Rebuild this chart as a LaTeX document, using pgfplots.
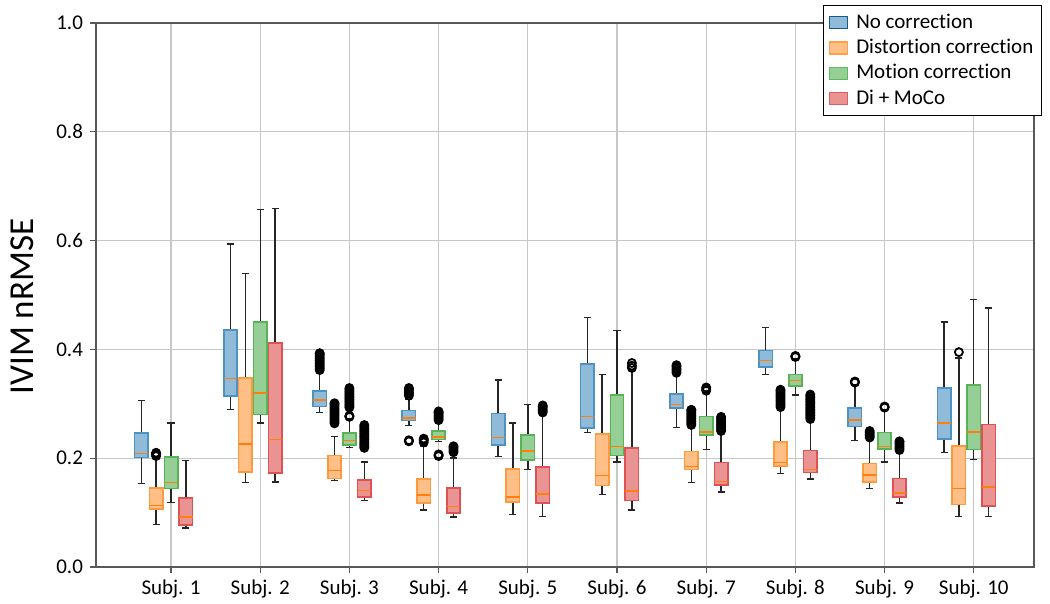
\documentclass[border=0pt]{standalone}
\usepackage{fontspec}
\setmainfont{Carlito}[Ligatures=NoCommon]
\usepackage{pgfplots}
\pgfplotsset{compat=1.18}
\usepgfplotslibrary{statistics}
\definecolor{tabblue}{RGB}{31,119,180}
\definecolor{tabor}{RGB}{255,127,14}
\definecolor{tabgr}{RGB}{44,160,44}
\definecolor{tabred}{RGB}{214,39,40}
\pgfplotsset{
  bxbase/.style={forget plot,
    boxplot/draw direction=y,
    boxplot/box extend=0.15, boxplot/whisker extend=0.08,
    boxplot/every whisker/.style={draw=black!85, line width=0.7pt},
    boxplot/every median/.style={draw=tabor, line width=0.7pt},
    mark=o, mark size=2pt, mark options={draw=black, line width=0.9pt}},
  CB/.style={bxbase, boxplot/every box/.style={draw=tabblue!80!white, fill=tabblue!50!white, line width=0.8pt}},
  CO/.style={bxbase, boxplot/every box/.style={draw=tabor!80!white, fill=tabor!50!white, line width=0.8pt}},
  CG/.style={bxbase, boxplot/every box/.style={draw=tabgr!80!white, fill=tabgr!50!white, line width=0.8pt}},
  CR/.style={bxbase, boxplot/every box/.style={draw=tabred!80!white, fill=tabred!50!white, line width=0.8pt}},
}
\begin{document}
\begin{tikzpicture}
\begin{axis}[
  scale only axis, width=469pt, height=272pt,
  xmin=0.159, xmax=10.675, ymin=0, ymax=1,
  xtick={1,2,3,4,5,6,7,8,9,10},
  xticklabels={Subj. 1,Subj. 2,Subj. 3,Subj. 4,Subj. 5,Subj. 6,Subj. 7,Subj. 8,Subj. 9,Subj. 10},
  ytick={0,0.2,0.4,0.6,0.8,1.0},
  yticklabel={\pgfmathprintnumber[fixed,fixed zerofill,precision=1,assume math mode=true]{\tick}},
  grid=major, major grid style={draw=black!22, line width=0.6pt},
  axis line style={draw=black!65, line width=0.7pt},
  tick style={draw=black!65, line width=0.6pt},
  tick align=outside, major tick length=3pt,
  xtick pos=bottom, ytick pos=left,
  ticklabel style={font=\fontsize{10.5}{12}\selectfont},
  ylabel={IVIM nRMSE},
  ylabel style={font=\fontsize{17.5}{20}\selectfont, at={(axis description cs:-0.079,0.479)}, anchor=center},
  legend style={at={(axis description cs:1.0085,1.033)}, anchor=north east, draw=black, line width=0.6pt,
    font=\fontsize{10.5}{12}\selectfont, inner sep=2.5pt, row sep=1pt, nodes={inner sep=1.5pt}},
  legend cell align=left,
]
\addlegendimage{legend image code/.code={\draw[draw=tabblue!75!black, fill=tabblue!50!white, line width=0.7pt] (0pt,-3pt) rectangle (9pt,3pt);}}
\addlegendentry{\hspace{2.5pt}No correction}
\addlegendimage{legend image code/.code={\draw[draw=tabor!75!white, fill=tabor!50!white, line width=0.7pt] (0pt,-3pt) rectangle (9pt,3pt);}}
\addlegendentry{\hspace{2.5pt}Distortion correction}
\addlegendimage{legend image code/.code={\draw[draw=tabgr!75!white, fill=tabgr!50!white, line width=0.7pt] (0pt,-3pt) rectangle (9pt,3pt);}}
\addlegendentry{\hspace{2.5pt}Motion correction}
\addlegendimage{legend image code/.code={\draw[draw=tabred!75!white, fill=tabred!50!white, line width=0.7pt] (0pt,-3pt) rectangle (9pt,3pt);}}
\addlegendentry{\hspace{2.5pt}Di + MoCo}

% ---------- Subj. 1
\addplot[CB, boxplot prepared={draw position=0.667, lower whisker=0.153, lower quartile=0.201, median=0.209, upper quartile=0.246, upper whisker=0.306}] coordinates {};
\addplot[CO, boxplot prepared={draw position=0.833, lower whisker=0.078, lower quartile=0.107, median=0.113, upper quartile=0.145, upper whisker=0.200}] table[row sep=\\, y index=0] {data\\0.204\\0.206\\0.207\\0.208\\0.210\\};
\addplot[CG, boxplot prepared={draw position=1.000, lower whisker=0.119, lower quartile=0.144, median=0.155, upper quartile=0.202, upper whisker=0.265}] coordinates {};
\addplot[CR, boxplot prepared={draw position=1.167, lower whisker=0.072, lower quartile=0.077, median=0.092, upper quartile=0.127, upper whisker=0.196}] coordinates {};
% ---------- Subj. 2
\addplot[CB, boxplot prepared={draw position=1.667, lower whisker=0.289, lower quartile=0.314, median=0.347, upper quartile=0.436, upper whisker=0.594}] coordinates {};
\addplot[CO, boxplot prepared={draw position=1.833, lower whisker=0.155, lower quartile=0.175, median=0.226, upper quartile=0.347, upper whisker=0.540}] coordinates {};
\addplot[CG, boxplot prepared={draw position=2.000, lower whisker=0.265, lower quartile=0.280, median=0.320, upper quartile=0.450, upper whisker=0.657}] coordinates {};
\addplot[CR, boxplot prepared={draw position=2.167, lower whisker=0.156, lower quartile=0.173, median=0.234, upper quartile=0.412, upper whisker=0.659}] coordinates {};
% ---------- Subj. 3
\addplot[CB, boxplot prepared={draw position=2.667, lower whisker=0.284, lower quartile=0.295, median=0.307, upper quartile=0.324, upper whisker=0.358}] table[row sep=\\, y index=0] {data\\0.362\\0.365\\0.368\\0.371\\0.374\\0.377\\0.380\\0.383\\0.386\\0.389\\0.392\\0.393\\};
\addplot[CO, boxplot prepared={draw position=2.833, lower whisker=0.159, lower quartile=0.163, median=0.177, upper quartile=0.205, upper whisker=0.240}] table[row sep=\\, y index=0] {data\\0.264\\0.267\\0.270\\0.273\\0.276\\0.279\\0.282\\0.285\\0.288\\0.291\\0.294\\0.297\\0.300\\0.301\\};
\addplot[CG, boxplot prepared={draw position=3.000, lower whisker=0.220, lower quartile=0.224, median=0.233, upper quartile=0.246, upper whisker=0.272}] table[row sep=\\, y index=0] {data\\0.276\\0.277\\0.278\\0.293\\0.296\\0.299\\0.302\\0.305\\0.308\\0.311\\0.314\\0.317\\0.320\\0.323\\0.326\\0.329\\};
\addplot[CR, boxplot prepared={draw position=3.167, lower whisker=0.122, lower quartile=0.129, median=0.141, upper quartile=0.160, upper whisker=0.193}] table[row sep=\\, y index=0] {data\\0.219\\0.222\\0.225\\0.228\\0.231\\0.234\\0.237\\0.240\\0.243\\0.246\\0.249\\0.252\\0.255\\0.258\\0.261\\};
% ---------- Subj. 4
\addplot[CB, boxplot prepared={draw position=3.667, lower whisker=0.260, lower quartile=0.269, median=0.274, upper quartile=0.288, upper whisker=0.308}] table[row sep=\\, y index=0] {data\\0.231\\0.232\\0.233\\0.315\\0.318\\0.321\\0.324\\0.327\\0.329\\};
\addplot[CO, boxplot prepared={draw position=3.833, lower whisker=0.105, lower quartile=0.118, median=0.132, upper quartile=0.162, upper whisker=0.222}] table[row sep=\\, y index=0] {data\\0.229\\0.232\\0.234\\0.236\\};
\addplot[CG, boxplot prepared={draw position=4.000, lower whisker=0.231, lower quartile=0.234, median=0.239, upper quartile=0.250, upper whisker=0.265}] table[row sep=\\, y index=0] {data\\0.204\\0.205\\0.207\\0.270\\0.273\\0.276\\0.279\\0.282\\0.284\\0.286\\};
\addplot[CR, boxplot prepared={draw position=4.167, lower whisker=0.092, lower quartile=0.099, median=0.111, upper quartile=0.145, upper whisker=0.200}] table[row sep=\\, y index=0] {data\\0.211\\0.214\\0.217\\0.220\\0.222\\};
% ---------- Subj. 5
\addplot[CB, boxplot prepared={draw position=4.667, lower whisker=0.203, lower quartile=0.224, median=0.238, upper quartile=0.282, upper whisker=0.344}] coordinates {};
\addplot[CO, boxplot prepared={draw position=4.833, lower whisker=0.096, lower quartile=0.120, median=0.129, upper quartile=0.180, upper whisker=0.265}] coordinates {};
\addplot[CG, boxplot prepared={draw position=5.000, lower whisker=0.179, lower quartile=0.197, median=0.213, upper quartile=0.243, upper whisker=0.299}] coordinates {};
\addplot[CR, boxplot prepared={draw position=5.167, lower whisker=0.093, lower quartile=0.118, median=0.134, upper quartile=0.184, upper whisker=0.278}] table[row sep=\\, y index=0] {data\\0.284\\0.287\\0.290\\0.293\\0.295\\0.297\\};
% ---------- Subj. 6
\addplot[CB, boxplot prepared={draw position=5.667, lower whisker=0.247, lower quartile=0.256, median=0.277, upper quartile=0.373, upper whisker=0.459}] coordinates {};
\addplot[CO, boxplot prepared={draw position=5.833, lower whisker=0.133, lower quartile=0.150, median=0.168, upper quartile=0.245, upper whisker=0.354}] coordinates {};
\addplot[CG, boxplot prepared={draw position=6.000, lower whisker=0.193, lower quartile=0.205, median=0.222, upper quartile=0.316, upper whisker=0.435}] coordinates {};
\addplot[CR, boxplot prepared={draw position=6.167, lower whisker=0.105, lower quartile=0.122, median=0.140, upper quartile=0.219, upper whisker=0.362}] table[row sep=\\, y index=0] {data\\0.366\\0.370\\0.375\\};
% ---------- Subj. 7
\addplot[CB, boxplot prepared={draw position=6.667, lower whisker=0.256, lower quartile=0.292, median=0.299, upper quartile=0.318, upper whisker=0.352}] table[row sep=\\, y index=0] {data\\0.357\\0.360\\0.363\\0.366\\0.369\\0.371\\};
\addplot[CO, boxplot prepared={draw position=6.833, lower whisker=0.155, lower quartile=0.179, median=0.185, upper quartile=0.212, upper whisker=0.256}] table[row sep=\\, y index=0] {data\\0.261\\0.264\\0.267\\0.270\\0.273\\0.276\\0.279\\0.282\\0.285\\0.288\\0.289\\};
\addplot[CG, boxplot prepared={draw position=7.000, lower whisker=0.216, lower quartile=0.243, median=0.248, upper quartile=0.277, upper whisker=0.320}] table[row sep=\\, y index=0] {data\\0.324\\0.327\\0.330\\};
\addplot[CR, boxplot prepared={draw position=7.167, lower whisker=0.138, lower quartile=0.151, median=0.157, upper quartile=0.192, upper whisker=0.246}] table[row sep=\\, y index=0] {data\\0.250\\0.253\\0.256\\0.259\\0.262\\0.265\\0.268\\0.271\\0.274\\0.276\\};
% ---------- Subj. 8
\addplot[CB, boxplot prepared={draw position=7.667, lower whisker=0.354, lower quartile=0.368, median=0.380, upper quartile=0.398, upper whisker=0.440}] coordinates {};
\addplot[CO, boxplot prepared={draw position=7.833, lower whisker=0.172, lower quartile=0.186, median=0.192, upper quartile=0.230, upper whisker=0.290}] table[row sep=\\, y index=0] {data\\0.294\\0.297\\0.300\\0.303\\0.306\\0.309\\0.312\\0.315\\0.318\\0.321\\0.324\\0.326\\};
\addplot[CG, boxplot prepared={draw position=8.000, lower whisker=0.316, lower quartile=0.333, median=0.343, upper quartile=0.354, upper whisker=0.382}] table[row sep=\\, y index=0] {data\\0.386\\0.387\\0.388\\};
\addplot[CR, boxplot prepared={draw position=8.167, lower whisker=0.162, lower quartile=0.174, median=0.179, upper quartile=0.214, upper whisker=0.268}] table[row sep=\\, y index=0] {data\\0.272\\0.275\\0.278\\0.281\\0.284\\0.287\\0.290\\0.293\\0.296\\0.299\\0.302\\0.305\\0.308\\0.311\\0.314\\0.317\\};
% ---------- Subj. 9
\addplot[CB, boxplot prepared={draw position=8.667, lower whisker=0.233, lower quartile=0.258, median=0.270, upper quartile=0.292, upper whisker=0.335}] table[row sep=\\, y index=0] {data\\0.339\\0.340\\0.341\\};
\addplot[CO, boxplot prepared={draw position=8.833, lower whisker=0.144, lower quartile=0.156, median=0.169, upper quartile=0.190, upper whisker=0.235}] table[row sep=\\, y index=0] {data\\0.238\\0.241\\0.244\\0.247\\0.250\\};
\addplot[CG, boxplot prepared={draw position=9.000, lower whisker=0.193, lower quartile=0.217, median=0.222, upper quartile=0.247, upper whisker=0.290}] table[row sep=\\, y index=0] {data\\0.293\\0.294\\0.295\\};
\addplot[CR, boxplot prepared={draw position=9.167, lower whisker=0.118, lower quartile=0.129, median=0.136, upper quartile=0.163, upper whisker=0.212}] table[row sep=\\, y index=0] {data\\0.215\\0.218\\0.221\\0.224\\0.227\\0.230\\0.231\\};
% ---------- Subj. 10
\addplot[CB, boxplot prepared={draw position=9.667, lower whisker=0.210, lower quartile=0.235, median=0.265, upper quartile=0.329, upper whisker=0.450}] coordinates {};
\addplot[CO, boxplot prepared={draw position=9.833, lower whisker=0.093, lower quartile=0.115, median=0.144, upper quartile=0.222, upper whisker=0.384}] table[row sep=\\, y index=0] {data\\0.395\\};
\addplot[CG, boxplot prepared={draw position=10.000, lower whisker=0.198, lower quartile=0.216, median=0.248, upper quartile=0.335, upper whisker=0.492}] coordinates {};
\addplot[CR, boxplot prepared={draw position=10.167, lower whisker=0.093, lower quartile=0.112, median=0.147, upper quartile=0.262, upper whisker=0.476}] coordinates {};
\end{axis}
\pgfresetboundingbox
\path[use as bounding box] (-48pt,-18.5pt) rectangle (477pt,283.5pt);
\end{tikzpicture}
\end{document}
